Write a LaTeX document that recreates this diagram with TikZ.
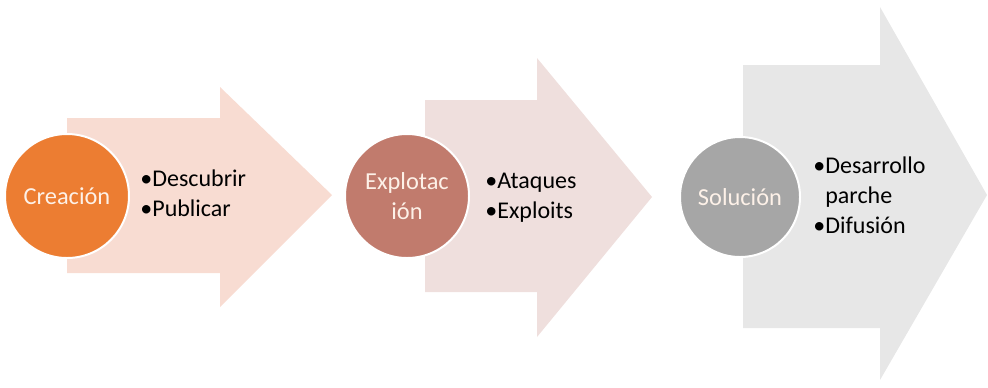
\documentclass[tikz,border=0pt]{standalone}
\usepackage{fontspec}
\setmainfont{Carlito}
\usepackage{tikz}
\usetikzlibrary{positioning}
\definecolor{creafill}{HTML}{F8DCD2}
\definecolor{creacirc}{HTML}{EC7D32}
\definecolor{explfill}{HTML}{EFDFDD}
\definecolor{explcirc}{HTML}{C17B6D}
\definecolor{solfill}{HTML}{E7E7E7}
\definecolor{solcirc}{HTML}{A6A6A6}
\definecolor{circtext}{HTML}{FDF1E8}
\tikzset{
  phase/.style={circle,draw=white,line width=1pt,minimum size=62pt,inner sep=0pt,
    text=circtext,align=center,font=\fontsize{12.2}{15}\selectfont},
  items/.style={anchor=west,inner sep=0pt,font=\fontsize{12}{15}\selectfont}
}

\begin{document}
\begin{tikzpicture}[x=0.5pt,y=-0.5pt]
        \useasboundingbox (0,0) rectangle (988,387);
        % arrows
        \fill[creafill] (67,118) -- (220,118) -- (220,87) -- (332,195) -- (220,307) -- (220,273) -- (67,273) -- cycle;
        \fill[explfill] (425,100) -- (537,100) -- (537,58) -- (652,197) -- (537,337) -- (537,292) -- (425,292) -- cycle;
        \fill[solfill] (743,65) -- (880,65) -- (880,7) -- (987,195) -- (880,380) -- (880,328) -- (743,328) -- cycle;
        % phases
        \node[phase,fill=creacirc] (crea) at (67,196) {Creación};
        \node[phase,fill=explcirc] (expl) at (407,196) {Explotac\\ión};
        \node[phase,fill=solcirc,minimum size=60pt] (sol) at (740,197) {Solución};
        % bullet lists
        \node[items] (creaitems) at (140,195) {\begin{tabular}{@{}l@{}l@{}}•&Descubrir\\•&Publicar\end{tabular}};
        \node[items] (explitems) at (485,197) {\begin{tabular}{@{}l@{}l@{}}•&Ataques\\•&Exploits\end{tabular}};
        \node[items] (solitems) at (813,197) {\begin{tabular}{@{}l@{}l@{}}•&Desarrollo\\&parche\\•&Difusión\end{tabular}};
\end{tikzpicture}
\end{document}
